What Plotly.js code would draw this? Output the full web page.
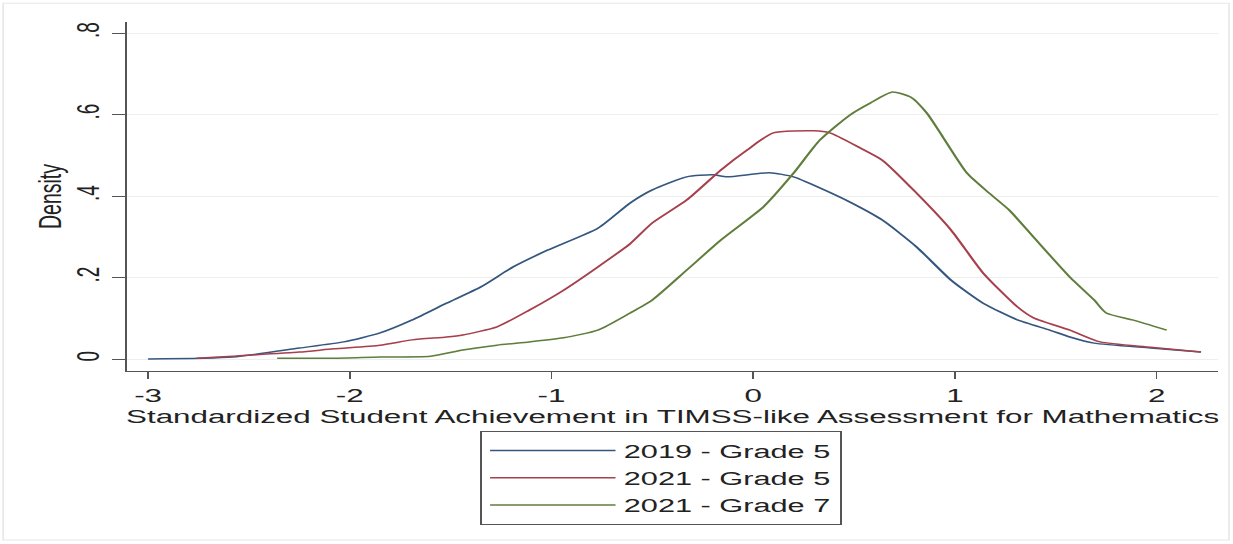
<!DOCTYPE html>
<html>
<head>
<meta charset="utf-8">
<script src="https://cdn.plot.ly/plotly-3.0.1.min.js"></script>
<style>
html, body { margin: 0; padding: 0; background: #ffffff; overflow: hidden; }
#wrap { width: 1233px; height: 544px; overflow: hidden; position: relative; }
/* The reference is a Stata graph stretched horizontally; draw at native width and stretch the same way */
#chart { width: 747px; height: 544px; transform: scaleX(1.6506); transform-origin: 0 0; }
</style>
</head>
<body>
<div id="wrap"><div id="chart"></div></div>
<script>
// ---- data ----
const seriesNames = ["2019 - Grade 5", "2021 - Grade 5", "2021 - Grade 7"];

const xTickVals = [-3, -2, -1, 0, 1, 2];
const xTickText = ["-3", "-2", "-1", "0", "1", "2"];
const yTickVals = [0, 0.2, 0.4, 0.6, 0.8];
const yTickText = ["0", ".2", ".4", ".6", ".8"];

const xG5_2019 = [-3.0, -2.58, -2.25, -2.03, -1.85, -1.69, -1.52, -1.35, -1.19, -1.02, -0.77, -0.61, -0.50, -0.33, -0.20, -0.13, 0.08, 0.20, 0.33, 0.48, 0.64, 0.81, 0.98, 1.14, 1.31, 1.47, 1.57, 1.69, 1.97, 2.22];
const yG5_2019 = [0.0, 0.005, 0.027, 0.042, 0.064, 0.096, 0.137, 0.177, 0.226, 0.267, 0.321, 0.383, 0.415, 0.447, 0.452, 0.447, 0.457, 0.447, 0.420, 0.385, 0.341, 0.275, 0.194, 0.137, 0.096, 0.071, 0.054, 0.039, 0.027, 0.017];

const xG5_2021 = [-2.76, -2.58, -2.25, -2.08, -1.85, -1.69, -1.52, -1.44, -1.27, -1.11, -0.94, -0.77, -0.61, -0.50, -0.33, -0.16, -0.03, 0.10, 0.30, 0.38, 0.53, 0.64, 0.81, 0.98, 1.14, 1.31, 1.39, 1.57, 1.72, 1.97, 2.22];
const yG5_2021 = [0.002, 0.007, 0.017, 0.025, 0.034, 0.047, 0.054, 0.059, 0.079, 0.120, 0.169, 0.226, 0.283, 0.334, 0.390, 0.464, 0.513, 0.555, 0.560, 0.555, 0.518, 0.488, 0.407, 0.317, 0.211, 0.128, 0.101, 0.071, 0.042, 0.029, 0.017];

const xG7_2021 = [-2.36, -2.08, -1.85, -1.60, -1.44, -1.27, -1.11, -0.94, -0.77, -0.61, -0.50, -0.33, -0.16, 0.05, 0.20, 0.33, 0.48, 0.58, 0.69, 0.78, 0.86, 0.94, 1.06, 1.17, 1.27, 1.39, 1.57, 1.69, 1.75, 1.88, 2.05];
const yG7_2021 = [0.002, 0.002, 0.005, 0.007, 0.022, 0.034, 0.042, 0.052, 0.071, 0.113, 0.145, 0.218, 0.292, 0.373, 0.456, 0.537, 0.599, 0.628, 0.655, 0.643, 0.604, 0.545, 0.456, 0.407, 0.365, 0.299, 0.201, 0.145, 0.113, 0.096, 0.071];

const xTitle = "Standardized Student Achievement in TIMSS-like Assessment for Mathematics";
const yTitle = "Density";

// ---- styling ----
const lineColors = ["#35577f", "#a6404c", "#5f7e3b"];
const FONT = "Liberation Sans, Arial, Helvetica, sans-serif";

const xs = [xG5_2019, xG5_2021, xG7_2021];
const ys = [yG5_2019, yG5_2021, yG7_2021];

const traces = seriesNames.map((name, i) => ({
  type: "scatter",
  mode: "lines",
  name: name,
  x: xs[i],
  y: ys[i],
  line: { color: lineColors[i], width: 1.5, shape: "spline", smoothing: 0.6 },
  hoverinfo: "skip"
}));

const layout = {
  width: 747,
  height: 544,
  margin: { l: 77, r: 9, t: 22, b: 173 },
  paper_bgcolor: "#ffffff",
  plot_bgcolor: "#ffffff",
  font: { family: FONT, size: 19, color: "#222222" },
  showlegend: true,
  xaxis: {
    range: [-3.104, 2.305],
    tickmode: "array",
    tickvals: xTickVals,
    ticktext: xTickText,
    ticks: "outside",
    ticklen: 7,
    tickwidth: 1,
    tickcolor: "#555555",
    showline: true,
    linecolor: "#555555",
    linewidth: 1.3,
    showgrid: false,
    zeroline: false,
    tickfont: { family: FONT, size: 19, color: "#222222" },
    title: { text: xTitle, font: { family: FONT, size: 19, color: "#222222" }, standoff: 0 }
  },
  yaxis: {
    range: [-0.0294, 0.827],
    tickmode: "array",
    tickvals: yTickVals,
    ticktext: yTickText,
    tickangle: -90,
    ticks: "outside",
    ticklen: 8,
    tickwidth: 1,
    tickcolor: "#555555",
    showline: true,
    linecolor: "#555555",
    linewidth: 1.3,
    showgrid: true,
    gridcolor: "#eeeeee",
    gridwidth: 1,
    zeroline: false,
    tickfont: { family: FONT, size: 19, color: "#222222" },
    title: { text: yTitle, font: { family: FONT, size: 19.5, color: "#222222" }, standoff: 0 }
  },
  legend: {
    x: 0.3236,
    xanchor: "left",
    y: -0.172,
    yanchor: "top",
    orientation: "v",
    bgcolor: "#ffffff",
    bordercolor: "#555555",
    borderwidth: 1,
    itemwidth: 76,
    font: { family: FONT, size: 18.6, color: "#222222" }
  },
  shapes: [{
    type: "rect", xref: "paper", yref: "paper",
    x0: -0.1136, x1: 1.010, y0: -0.484, y1: 1.054,
    line: { color: "#e8e8e8", width: 1 }, fillcolor: "rgba(0,0,0,0)", layer: "below"
  }]
};

Plotly.newPlot("chart", traces, layout, { displayModeBar: false, staticPlot: true });
</script>
</body>
</html>
